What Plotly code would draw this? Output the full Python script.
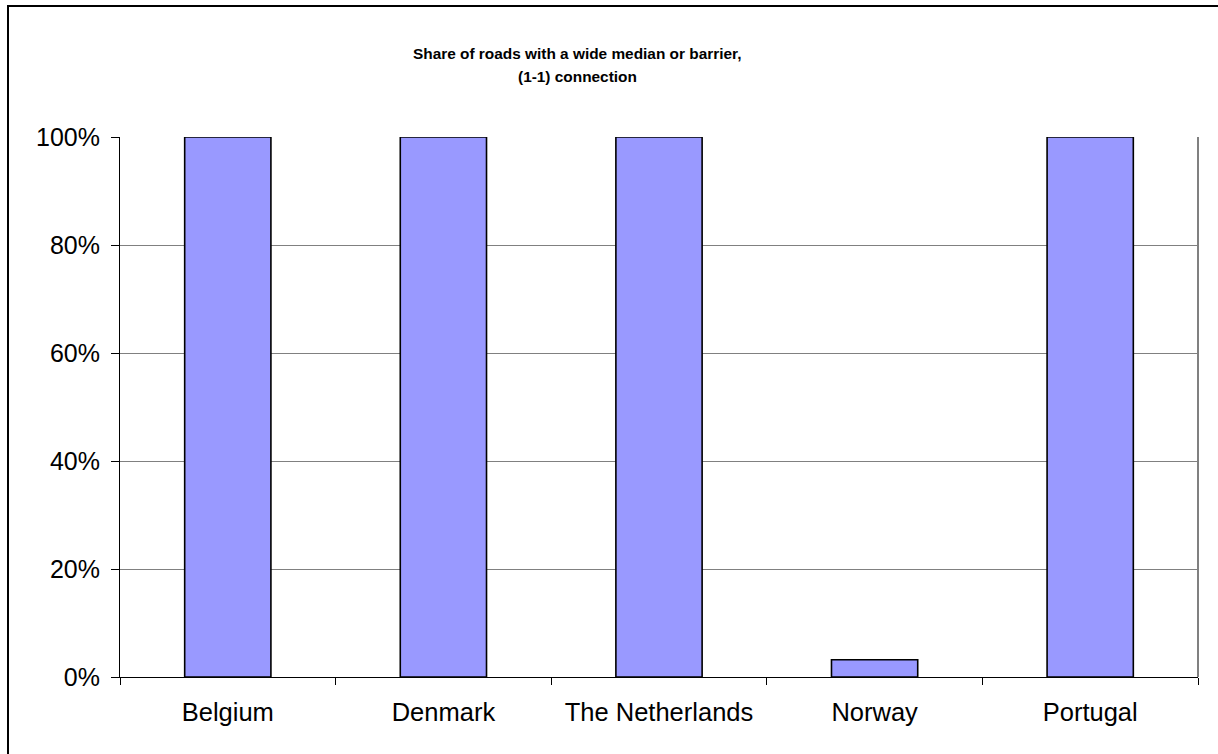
import plotly.graph_objects as go

# Share of roads with a wide median or barrier, (1-1) connection
countries = ["Belgium", "Denmark", "The Netherlands", "Norway", "Portugal"]
share = [1.00, 1.00, 1.00, 0.032, 1.00]
y_ticks = [0, 0.2, 0.4, 0.6, 0.8, 1.0]

W, H = 1218, 754
L, R, T, B = 120, 20, 137, 77
pw, ph = W - L - R, H - T - B


def px_x(x):
    return (x - L) / pw


def px_y(y):
    return (H - B - y) / ph


fig = go.Figure()
fig.add_trace(go.Bar(
    x=countries, y=share,
    marker=dict(color="#9999FF", line=dict(color="#000000", width=1.6)),
    width=0.4,
    hoverinfo="x+y",
))

font = "Liberation Sans, Arial, sans-serif"

fig.update_layout(
    width=W, height=H,
    margin=dict(l=L, r=R, t=T, b=B),
    paper_bgcolor="white", plot_bgcolor="white",
    showlegend=False,
    font=dict(family=font, color="#000000", size=25),
    xaxis=dict(
        range=[-0.5, 4.5],
        showline=True, linecolor="#000000", linewidth=1,
        ticks="outside", tickson="boundaries", ticklen=7, tickcolor="#000000",
        showgrid=False, tickfont=dict(size=25.5, family=font),
        ticklabelstandoff=12,
    ),
    yaxis=dict(
        range=[0, 1.0], tickvals=y_ticks, tickformat=".0%",
        showline=True, linecolor="#000000", linewidth=1,
        ticks="outside", ticklen=8, tickcolor="#000000",
        showgrid=True, gridcolor="#808080", gridwidth=1,
        zeroline=False, tickfont=dict(size=25, family=font),
        ticklabelstandoff=6,
    ),
    shapes=[
        # right edge of the plot area
        dict(type="line", xref="paper", yref="paper", x0=1, x1=1, y0=0, y1=1,
             line=dict(color="#808080", width=2)),
        # chart frame
        dict(type="rect", xref="paper", yref="paper",
             x0=px_x(8), x1=px_x(1240), y0=px_y(6), y1=px_y(780),
             line=dict(color="#000000", width=2), layer="above"),
    ],
    annotations=[
        dict(text="<b>Share of roads with a wide median or barrier,</b>",
             xref="paper", yref="paper", x=px_x(577), y=px_y(53),
             showarrow=False, font=dict(size=15.4, family=font),
             xanchor="center", yanchor="middle"),
        dict(text="<b>(1-1) connection</b>",
             xref="paper", yref="paper", x=px_x(577), y=px_y(77),
             showarrow=False, font=dict(size=15.4, family=font),
             xanchor="center", yanchor="middle"),
    ],
)

fig.write_html("out.html")
